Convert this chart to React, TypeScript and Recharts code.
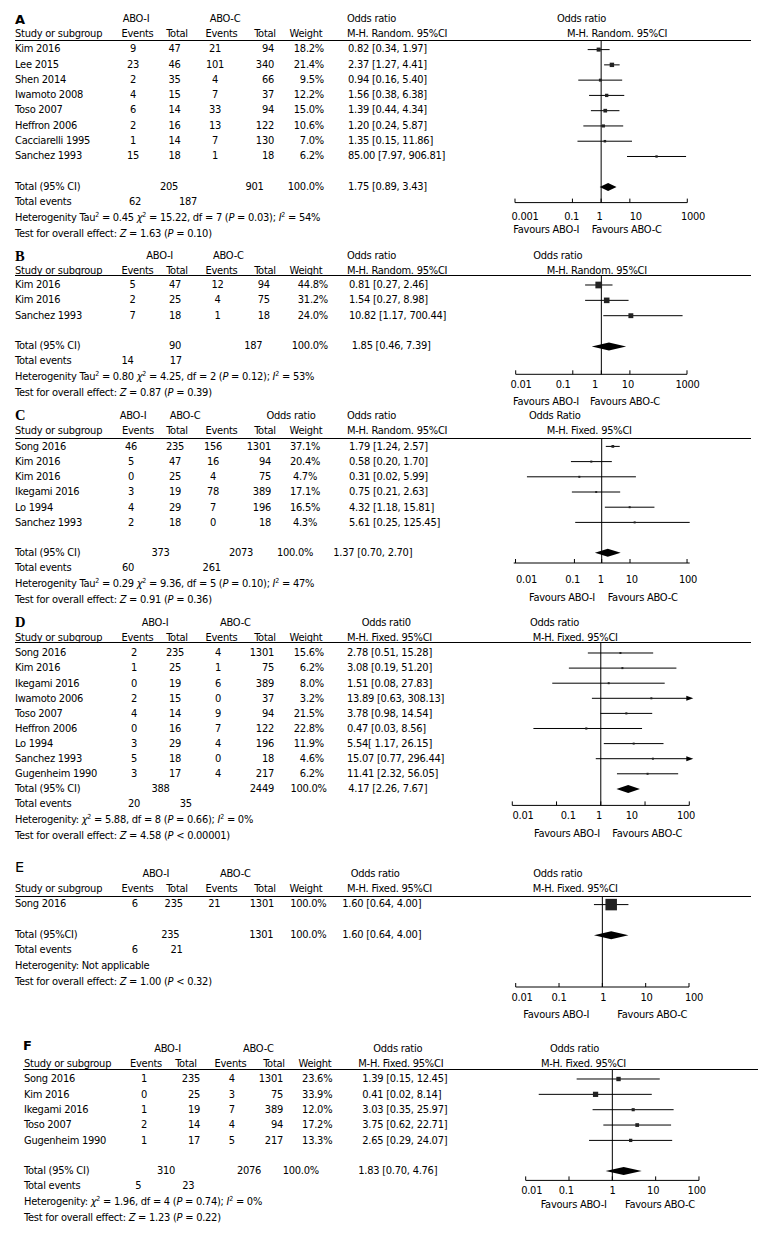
import React from 'react';
import { ComposedChart, XAxis, YAxis, Scatter, ReferenceLine, ReferenceArea } from 'recharts';

const FONT = '"DejaVu Sans Condensed", "Liberation Sans", Arial, sans-serif';

// ---------- A ----------
const namesA = ['Kim 2016', 'Lee 2015', 'Shen 2014', 'Iwamoto 2008', 'Toso 2007', 'Heffron 2006', 'Cacciarelli 1995', 'Sanchez 1993'];
const eventsIA = [9, 23, 2, 4, 6, 2, 1, 15];
const totalIA = [47, 46, 35, 15, 14, 16, 14, 18];
const eventsCA = [21, 101, 4, 7, 33, 13, 7, 1];
const totalCA = [94, 340, 66, 37, 94, 122, 130, 18];
const weightA = [18.2, 21.4, 9.5, 12.2, 15.0, 10.6, 7.0, 6.2];
const orA = [0.82, 2.37, 0.94, 1.56, 1.39, 1.2, 1.35, 85.0];
const lowA = [0.34, 1.27, 0.16, 0.38, 0.44, 0.24, 0.15, 7.97];
const highA = [1.97, 4.41, 5.4, 6.38, 4.34, 5.87, 11.86, 906.81];
const sumA = [205, 901, 62, 187];
const pooledA = [1.75, 0.89, 3.43];
const hetA = ['0.45', '15.22', '7', '0.03', '54'];
const testA = ['1.63', '=', '0.10'];
const ticksA = [0.001, 0.1, 1, 10, 1000];
const tickLabelsA = ['0.001', '0.1', '1', '10', '1000'];

// ---------- B ----------
const namesB = ['Kim 2016', 'Kim 2016', 'Sanchez 1993'];
const eventsIB = [5, 2, 7];
const totalIB = [47, 25, 18];
const eventsCB = [12, 4, 1];
const totalCB = [94, 75, 18];
const weightB = [44.8, 31.2, 24.0];
const orB = [0.81, 1.54, 10.82];
const lowB = [0.27, 0.27, 1.17];
const highB = [2.46, 8.98, 700.44];
const sumB = [90, 187, 14, 17];
const pooledB = [1.85, 0.46, 7.39];
const hetB = ['0.80', '4.25', '2', '0.12', '53'];
const testB = ['0.87', '=', '0.39'];
const ticksB = [0.001, 0.1, 1, 10, 1000];
const tickLabelsB = ['0.01', '0.1', '1', '10', '1000'];

// ---------- C ----------
const namesC = ['Song 2016', 'Kim 2016', 'Kim 2016', 'Ikegami 2016', 'Lo 1994', 'Sanchez 1993'];
const eventsIC = [46, 5, 0, 3, 4, 2];
const totalIC = [235, 47, 25, 19, 29, 18];
const eventsCC = [156, 16, 4, 78, 7, 0];
const totalCC = [1301, 94, 75, 389, 196, 18];
const weightC = [37.1, 20.4, 4.7, 17.1, 16.5, 4.3];
const orC = [1.79, 0.58, 0.31, 0.75, 4.32, 5.61];
const lowC = [1.24, 0.2, 0.02, 0.21, 1.18, 0.25];
const highC = [2.57, 1.7, 5.99, 2.63, 15.81, 125.45];
const sumC = [373, 2073, 60, 261];
const pooledC = [1.37, 0.7, 2.7];
const hetC = ['0.29', '9.36', '5', '0.10', '47'];
const testC = ['0.91', '=', '0.36'];
// tick marks in this panel sit where the picture has them, not on round values
const ticksC = [0.011, 0.24, 1, 4.4, 87];
const tickLabelsC = ['0.01', '0.1', '1', '10', '100'];

// ---------- D ----------
const namesD = ['Song 2016', 'Kim 2016', 'Ikegami 2016', 'Iwamoto 2006', 'Toso 2007', 'Heffron 2006', 'Lo 1994', 'Sanchez 1993', 'Gugenheim 1990'];
const eventsID = [2, 1, 0, 2, 4, 0, 3, 5, 3];
const totalID = [235, 25, 19, 15, 14, 16, 29, 18, 17];
const eventsCD = [4, 1, 6, 0, 9, 7, 4, 0, 4];
const totalCD = [1301, 75, 389, 37, 94, 122, 196, 18, 217];
const weightD = [15.6, 6.2, 8.0, 3.2, 21.5, 22.8, 11.9, 4.6, 6.2];
const orD = [2.78, 3.08, 1.51, 13.89, 3.78, 0.47, 5.54, 15.07, 11.41];
const lowD = [0.51, 0.19, 0.08, 0.63, 0.98, 0.03, 1.17, 0.77, 2.32];
const highD = [15.28, 51.2, 27.83, 308.13, 14.54, 8.56, 26.15, 296.44, 56.05];
const sumD = [388, 2449, 20, 35];
const pooledD = [4.17, 2.26, 7.67];
const hetD = ['', '5.88', '8', '0.66', '0'];
const testD = ['4.58', '<', '0.00001'];
const ciTextD: Record<number, string> = { 6: '5.54[ 1.17, 26.15]' };

// ---------- E ----------
const namesE = ['Song 2016'];
const eventsIE = [6];
const totalIE = [235];
const eventsCE = [21];
const totalCE = [1301];
const weightE = [100.0];
const orE = [1.6];
const lowE = [0.64];
const highE = [4.0];
const sumE = [235, 1301, 6, 21];
const pooledE = [1.6, 0.64, 4.0];
const hetE: string[] = [];
const testE = ['1.00', '<', '0.32'];

// ---------- F ----------
const namesF = ['Song 2016', 'Kim 2016', 'Ikegami 2016', 'Toso 2007', 'Gugenheim 1990'];
const eventsIF = [1, 0, 1, 2, 1];
const totalIF = [235, 25, 19, 14, 17];
const eventsCF = [4, 3, 7, 4, 5];
const totalCF = [1301, 75, 389, 94, 217];
const weightF = [23.6, 33.9, 12.0, 17.2, 13.3];
const orF = [1.39, 0.41, 3.03, 3.75, 2.65];
const lowF = [0.15, 0.02, 0.35, 0.62, 0.29];
const highF = [12.45, 8.14, 25.97, 22.71, 24.07];
const sumF = [310, 2076, 5, 23];
const pooledF = [1.83, 0.7, 4.76];
const hetF = ['', '1.96', '4', '0.74', '0'];
const testF = ['1.23', '=', '0.22'];

const ticksStd = [0.01, 0.1, 1, 10, 100];
const tickLabelsStd = ['0.01', '0.1', '1', '10', '100'];

type Align = 'l' | 'c' | 'r';
type Col = [number, Align];
type Head = [number, Align, string];

type PanelData = {
  names: string[]; evI: number[]; totI: number[]; evC: number[]; totC: number[];
  wt: number[]; or: number[]; lo: number[]; hi: number[];
  sum: number[]; pooled: number[]; het: string[]; test: string[];
  ticks: number[]; tickLabels: string[]; ciText?: Record<number, string>;
};

type Layout = {
  letter: string; letterStyle: React.CSSProperties; lx: number; ly: number;
  left: number; ruleX1: number; ruleX2: number; ruleY: number; axisY: number; y1: number; rowH: number; totalPos: number;
  h1: number; h2: number; head1: Head[]; head2: Head[];
  row: Col[]; tot: Col[]; ev: Col[]; totalLabel: string;
  x1: number; x2: number; domain: [number, number]; gap: number; labelDx: number[]; k: number; arrows: boolean;
  plotHead: [number, string, number, string]; fav: [number, number, number];
};

const sansBold = { fontFamily: '"DejaVu Sans", sans-serif', fontWeight: 700, fontSize: 14 };
const serifBold = { fontFamily: '"Liberation Serif", serif', fontWeight: 700, fontSize: 14.5 };

const head2Std = (m: string): Head[] => [
  [15, 'l', 'Study or subgroup'], [137.5, 'c', 'Events'], [177, 'c', 'Total'], [221.5, 'c', 'Events'],
  [265, 'c', 'Total'], [306, 'c', 'Weight'], [347, 'l', m],
];

const layoutA: Layout = {
  letter: 'A', letterStyle: { ...sansBold, fontSize: 13 }, lx: 15, ly: 19.5,
  left: 15, ruleX1: 15, ruleX2: 751, ruleY: 40.7, axisY: 202.3, y1: 49.3, rowH: 15.27, totalPos: 10,
  h1: 18.5, h2: 34,
  head1: [[136, 'c', 'ABO-I'], [225, 'c', 'ABO-C'], [347, 'l', 'Odds ratio']],
  head2: head2Std('M-H. Random. 95%CI'),
  row: [[133, 'c'], [174.5, 'c'], [215, 'c'], [274, 'r'], [324, 'r'], [348, 'l']],
  tot: [[169, 'c'], [254.5, 'c'], [324, 'r'], [348, 'l']],
  ev: [[135, 'c'], [188, 'c']], totalLabel: 'Total (95% CI)',
  x1: 515, x2: 687.3, domain: [0.001, 1000], gap: 13.5, labelDx: [10, -0.8, -1.6, 6, 5.7], k: 0.95, arrows: false,
  plotHead: [557, 'Odds ratio', 567, 'M-H. Random. 95%CI'], fav: [230, 513.3, 591.7],
};

const layoutB: Layout = {
  letter: 'B', letterStyle: serifBold, lx: 15, ly: 255.5,
  left: 15, ruleX1: 15, ruleX2: 751, ruleY: 275, axisY: 374.3, y1: 285, rowH: 15.35, totalPos: 5,
  h1: 255.7, h2: 270.7,
  head1: [[159.7, 'c', 'ABO-I'], [228.3, 'c', 'ABO-C'], [347, 'l', 'Odds ratio']],
  head2: head2Std('M-H. Random. 95%CI'),
  row: [[132.5, 'c'], [175, 'c'], [217.5, 'c'], [263.7, 'c'], [328, 'r'], [349, 'l']],
  tot: [[175, 'c'], [253.3, 'c'], [328, 'r'], [351.7, 'l']],
  ev: [[127.5, 'c'], [175.8, 'c']], totalLabel: 'Total (95% CI)',
  x1: 515.7, x2: 687, domain: [0.001, 1000], gap: 10, labelDx: [5.3, -9.6, -6.2, -2, 0.5], k: 1.0, arrows: false,
  plotHead: [533.3, 'Odds ratio', 546.7, 'M-H. Random. 95%CI'], fav: [402.3, 513, 590],
};

const layoutC: Layout = {
  letter: 'C', letterStyle: serifBold, lx: 15, ly: 415,
  left: 15, ruleX1: 15, ruleX2: 751, ruleY: 438.3, axisY: 563.3, y1: 446.7, rowH: 15.2, totalPos: 8,
  h1: 415.7, h2: 430.7,
  head1: [[133, 'c', 'ABO-I'], [185, 'c', 'ABO-C'], [291, 'c', 'Odds ratio'], [347, 'l', 'Odds ratio']],
  head2: [[15, 'l', 'Study or subgroup'], [138, 'c', 'Events'], [177, 'c', 'Total'], [221.5, 'c', 'Events'],
    [265, 'c', 'Total'], [306, 'c', 'Weight'], [347, 'l', 'M-H. Random. 95%CI']],
  row: [[131, 'c'], [175, 'c'], [213, 'c'], [271, 'r'], [305, 'c'], [349, 'l']],
  tot: [[160.5, 'c'], [241, 'c'], [295, 'c'], [333.3, 'l']],
  ev: [[128, 'c'], [211.7, 'c']], totalLabel: 'Total (95% CI)',
  x1: 513.7, x2: 689.7, domain: [0.01, 100], gap: 15.8, labelDx: [11, -1.8, -1, 1.7, 1], k: 0.45, arrows: false,
  plotHead: [529, 'Odds Ratio', 546.7, 'M-H. Fixed. 95%CI'], fav: [598.3, 529, 607.7],
};

const layoutD: Layout = {
  letter: 'D', letterStyle: serifBold, lx: 15, ly: 621.7,
  left: 15, ruleX1: 15, ruleX2: 751, ruleY: 642.3, axisY: 805.7, y1: 653.3, rowH: 15.1, totalPos: 10,
  h1: 622.5, h2: 638.3,
  head1: [[155, 'c', 'ABO-I'], [235.3, 'c', 'ABO-C'], [361.7, 'l', 'Odds rati0']],
  head2: head2Std('M-H. Fixed. 95%CI'),
  row: [[134, 'c'], [175, 'c'], [218, 'c'], [274, 'r'], [324, 'r'], [347, 'l']],
  tot: [[160.5, 'c'], [274, 'r'], [326.7, 'r'], [348.3, 'l']],
  ev: [[134, 'c'], [185.8, 'c']], totalLabel: 'Total (95% CI)',
  x1: 512.3, x2: 689.3, domain: [0.01, 100], gap: 9.4, labelDx: [10.7, 11.7, -1.7, -13.2, -3.3], k: 0.45, arrows: true,
  plotHead: [530, 'Odds ratio', 532.7, 'M-H. Fixed. 95%CI'], fav: [834, 534, 612.3],
};

const layoutE: Layout = {
  letter: 'E', letterStyle: { fontFamily: '"DejaVu Sans", sans-serif', fontSize: 14.5 }, lx: 15, ly: 866.7,
  left: 15, ruleX1: 15, ruleX2: 751, ruleY: 896.7, axisY: 986.7, y1: 904.3, rowH: 15.35, totalPos: 3,
  h1: 874.3, h2: 889.3,
  head1: [[155.8, 'c', 'ABO-I'], [235.3, 'c', 'ABO-C'], [350.7, 'l', 'Odds ratio']],
  head2: head2Std('M-H. Fixed. 95%CI'),
  row: [[134.7, 'c'], [173.7, 'c'], [214.2, 'c'], [274, 'r'], [308.3, 'c'], [342.3, 'l']],
  tot: [[170.3, 'c'], [261.3, 'c'], [308.3, 'c'], [342.3, 'l']],
  ev: [[134.7, 'c'], [176.5, 'c']], totalLabel: 'Total (95%CI)',
  x1: 515.7, x2: 689, domain: [0.01, 100], gap: 10, labelDx: [6.3, 0, 1, 0.8, 5], k: 1.15, arrows: false,
  plotHead: [533.3, 'Odds ratio', 532.7, 'M-H. Fixed. 95%CI'], fav: [1015, 523.3, 617.3],
};

const layoutF: Layout = {
  letter: 'F', letterStyle: { ...sansBold, fontSize: 13 }, lx: 23, ly: 1045.5,
  left: 24, ruleX1: 23, ruleX2: 758, ruleY: 1069.3, axisY: 1180.7, y1: 1079.3, rowH: 15.35, totalPos: 7,
  h1: 1049.3, h2: 1064.3,
  head1: [[167.5, 'c', 'ABO-I'], [258.3, 'c', 'ABO-C'], [373.3, 'l', 'Odds ratio']],
  head2: [[24, 'l', 'Study or subgroup'], [146, 'c', 'Events'], [186, 'c', 'Total'], [230.5, 'c', 'Events'],
    [274, 'c', 'Total'], [315, 'c', 'Weight'], [358.3, 'l', 'M-H. Fixed. 95%CI']],
  row: [[144, 'c'], [200, 'r'], [231.7, 'c'], [283, 'r'], [332.3, 'r'], [362.3, 'l']],
  tot: [[166, 'c'], [249, 'c'], [300.8, 'c'], [358.3, 'l']],
  ev: [[138.3, 'c'], [188.3, 'c']], totalLabel: 'Total (95% CI)',
  x1: 525.7, x2: 699, domain: [0.01, 100], gap: 9.4, labelDx: [6, -2.8, 0.3, -2.5, -2.3], k: 0.9, arrows: false,
  plotHead: [550, 'Odds ratio', 541, 'M-H. Fixed. 95%CI'], fav: [1205, 540.7, 625],
};

const panels: { d: PanelData; l: Layout }[] = [
  { d: { names: namesA, evI: eventsIA, totI: totalIA, evC: eventsCA, totC: totalCA, wt: weightA, or: orA, lo: lowA, hi: highA, sum: sumA, pooled: pooledA, het: hetA, test: testA, ticks: ticksA, tickLabels: tickLabelsA }, l: layoutA },
  { d: { names: namesB, evI: eventsIB, totI: totalIB, evC: eventsCB, totC: totalCB, wt: weightB, or: orB, lo: lowB, hi: highB, sum: sumB, pooled: pooledB, het: hetB, test: testB, ticks: ticksB, tickLabels: tickLabelsB }, l: layoutB },
  { d: { names: namesC, evI: eventsIC, totI: totalIC, evC: eventsCC, totC: totalCC, wt: weightC, or: orC, lo: lowC, hi: highC, sum: sumC, pooled: pooledC, het: hetC, test: testC, ticks: ticksC, tickLabels: tickLabelsC }, l: layoutC },
  { d: { names: namesD, evI: eventsID, totI: totalID, evC: eventsCD, totC: totalCD, wt: weightD, or: orD, lo: lowD, hi: highD, sum: sumD, pooled: pooledD, het: hetD, test: testD, ticks: ticksStd, tickLabels: tickLabelsStd, ciText: ciTextD }, l: layoutD },
  { d: { names: namesE, evI: eventsIE, totI: totalIE, evC: eventsCE, totC: totalCE, wt: weightE, or: orE, lo: lowE, hi: highE, sum: sumE, pooled: pooledE, het: hetE, test: testE, ticks: ticksStd, tickLabels: tickLabelsStd }, l: layoutE },
  { d: { names: namesF, evI: eventsIF, totI: totalIF, evC: eventsCF, totC: totalCF, wt: weightF, or: orF, lo: lowF, hi: highF, sum: sumF, pooled: pooledF, het: hetF, test: testF, ticks: ticksStd, tickLabels: tickLabelsStd }, l: layoutF },
];

const Txt = ({ x, y, a = 'l', children, style }: { x: number; y: number; a?: Align; children: React.ReactNode; style?: React.CSSProperties }) => (
  <div
    style={{
      position: 'absolute', left: x, top: y - 7, lineHeight: '14px', whiteSpace: 'nowrap',
      transform: a === 'c' ? 'translateX(-50%)' : a === 'r' ? 'translateX(-100%)' : undefined,
      ...style,
    }}
  >
    {children}
  </div>
);

const Sup = ({ children }: { children: React.ReactNode }) => (
  <span style={{ fontSize: 7, position: 'relative', top: -4 }}>{children}</span>
);

const hetLine = (h: string[]) => {
  if (h.length === 0) return <>Heterogenity: Not applicable</>;
  const [tau, chi, df, p, i2] = h;
  return (
    <>
      {tau ? <>Heterogenity Tau<Sup>2</Sup> = {tau} </> : <>Heterogenity: </>}
      <i>χ</i><Sup>2</Sup> = {chi}, df = {df} (<i>P</i> = {p}); <i>I</i><Sup>2</Sup> = {i2}%
    </>
  );
};

const testLine = (t: string[]) => (
  <>Test for overall effect: <i>Z</i> = {t[0]} (<i>P</i> {t[1]} {t[2]})</>
);

const fmt = (v: number) => v.toFixed(2);

const Diamond = (props: any) => {
  const { x, y, width, height } = props;
  return (
    <polygon
      points={`${x},${y + height / 2} ${x + width / 2},${y} ${x + width},${y + height / 2} ${x + width / 2},${y + height}`}
      fill="#000"
    />
  );
};

const Arrow = (p: any) => (
  <polygon points={`${p.cx + 4},${p.cy} ${p.cx - 3},${p.cy - 2.5} ${p.cx - 3},${p.cy + 2.5}`} fill="#000" />
);

const ForestPanel = ({ d, l }: { d: PanelData; l: Layout }) => {
  const rowY = (pos: number) => l.y1 + (pos - 1) * l.rowH;
  const totalY = rowY(l.totalPos);
  const [dMin, dMax] = l.domain;
  const ci = (i: number) => (d.ciText && d.ciText[i]) || `${fmt(d.or[i])} [${fmt(d.lo[i])}, ${fmt(d.hi[i])}]`;
  const points = d.or.map((x, i) => ({ x, y: i + 1, w: d.wt[i] }));
  const arrowPts = l.arrows ? d.hi.map((h, i) => ({ x: dMax, y: i + 1, h })).filter((p) => p.h > dMax) : [];
  const yDomain: [number, number] = [1 - (l.y1 - l.ruleY) / l.rowH, 1 + (l.axisY - l.y1) / l.rowH];
  const dh = 4 / l.rowH;
  const Square = (p: any) => {
    const s = Math.max(2, l.k * Math.sqrt(p.payload.w));
    return <rect x={p.cx - s / 2} y={p.cy - s / 2} width={s} height={s} fill="#222" />;
  };
  const Tick = (p: any) => {
    const idx = d.ticks.indexOf(p.payload.value);
    return (
      <text x={p.x + (l.labelDx[idx] || 0)} y={p.y} dy="0.71em" textAnchor="middle" fill="#000" fontSize={11} fontFamily={FONT}>
        {d.tickLabels[idx]}
      </text>
    );
  };

  return (
    <>
      <div style={{ position: 'absolute', left: l.lx, top: l.ly - 5, lineHeight: '10px', whiteSpace: 'nowrap', ...l.letterStyle }}>{l.letter}</div>
      {l.head1.map(([x, a, t], i) => <Txt key={'h1' + i} x={x} y={l.h1} a={a}>{t}</Txt>)}
      {l.head2.map(([x, a, t], i) => <Txt key={'h2' + i} x={x} y={l.h2} a={a}>{t}</Txt>)}
      <Txt x={l.plotHead[0]} y={l.h1}>{l.plotHead[1]}</Txt>
      <Txt x={l.plotHead[2]} y={l.h2}>{l.plotHead[3]}</Txt>
      <div style={{ position: 'absolute', left: l.ruleX1, top: Math.round(l.ruleY - 0.5), width: l.ruleX2 - l.ruleX1, height: 1, background: '#000' }} />

      {d.names.map((name, i) => {
        const y = rowY(i + 1);
        const vals = [String(d.evI[i]), String(d.totI[i]), String(d.evC[i]), String(d.totC[i]), `${d.wt[i].toFixed(1)}%`, ci(i)];
        return (
          <React.Fragment key={'r' + i}>
            <Txt x={l.left} y={y}>{name}</Txt>
            {vals.map((v, j) => <Txt key={j} x={l.row[j][0]} y={y} a={l.row[j][1]}>{v}</Txt>)}
          </React.Fragment>
        );
      })}

      <Txt x={l.left} y={totalY}>{l.totalLabel}</Txt>
      {[String(d.sum[0]), String(d.sum[1]), '100.0%', `${fmt(d.pooled[0])} [${fmt(d.pooled[1])}, ${fmt(d.pooled[2])}]`].map((v, j) => (
        <Txt key={'t' + j} x={l.tot[j][0]} y={totalY} a={l.tot[j][1]}>{v}</Txt>
      ))}
      <Txt x={l.left} y={totalY + 15}>Total events</Txt>
      <Txt x={l.ev[0][0]} y={totalY + 15} a={l.ev[0][1]}>{d.sum[2]}</Txt>
      <Txt x={l.ev[1][0]} y={totalY + 15} a={l.ev[1][1]}>{d.sum[3]}</Txt>
      <Txt x={l.left} y={totalY + 31}>{hetLine(d.het)}</Txt>
      <Txt x={l.left} y={totalY + 47}>{testLine(d.test)}</Txt>

      <Txt x={l.fav[1]} y={l.fav[0]}>Favours ABO-I</Txt>
      <Txt x={l.fav[2]} y={l.fav[0]}>Favours ABO-C</Txt>

      <div style={{ position: 'absolute', left: 0, top: l.ruleY }}>
        <ComposedChart
          width={775}
          height={l.axisY - l.ruleY + 30}
          margin={{ top: 0, right: 775 - l.x2, bottom: 0, left: l.x1 }}
        >
          <XAxis
            type="number"
            dataKey="x"
            scale="log"
            domain={l.domain}
            ticks={d.ticks}
            interval={0}
            tickSize={-4}
            tickMargin={l.gap}
            height={30}
            axisLine={{ stroke: '#000' }}
            tickLine={{ stroke: '#000' }}
            tick={Tick}
          />
          <YAxis type="number" dataKey="y" hide reversed domain={yDomain} />
          <ReferenceLine x={1} stroke="#000" ifOverflow="visible" />
          {d.lo.map((lo, i) => (
            <ReferenceLine
              key={'ci' + i}
              segment={[{ x: Math.max(lo, dMin), y: i + 1 }, { x: Math.min(d.hi[i], dMax), y: i + 1 }]}
              stroke="#000"
              ifOverflow="visible"
            />
          ))}
          <ReferenceArea
            x1={d.pooled[1]}
            x2={d.pooled[2]}
            y1={l.totalPos - dh}
            y2={l.totalPos + dh}
            shape={Diamond}
            ifOverflow="visible"
          />
          <Scatter data={points} shape={Square} isAnimationActive={false} />
          {arrowPts.length > 0 && <Scatter data={arrowPts} shape={Arrow} isAnimationActive={false} />}
        </ComposedChart>
      </div>
    </>
  );
};

export default function App() {
  return (
    <div
      style={{
        position: 'absolute', left: 0, top: 0, width: 775, height: 1237, background: '#fff', overflow: 'hidden',
        fontFamily: FONT, fontSize: 11, letterSpacing: '-0.25px', color: '#000',
      }}
    >
      {panels.map((p, i) => <ForestPanel key={i} d={p.d} l={p.l} />)}
    </div>
  );
}
